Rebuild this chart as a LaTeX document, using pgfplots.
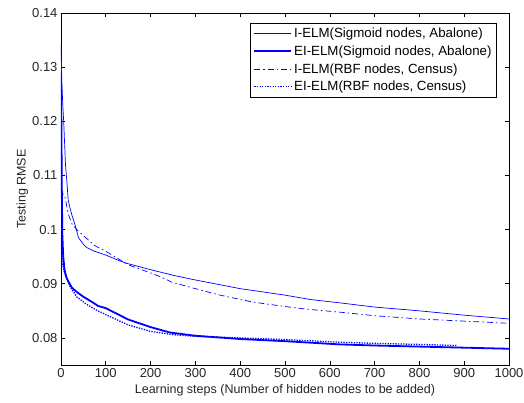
\documentclass[border=0pt]{standalone}
\usepackage{pgfplots}
\pgfplotsset{compat=1.18}
\usepackage{fontspec}
\setmainfont{Liberation Sans}
\begin{document}
\begin{tikzpicture}
\begin{axis}[
  scale only axis,
  width=448pt, height=352pt,
  xmin=0, xmax=1000, ymin=0.075, ymax=0.14,
  xtick={0,100,...,1000},
  ytick={0.08,0.09,0.1,0.11,0.12,0.13,0.14},
  scaled y ticks=false, scaled x ticks=false,
  /pgf/number format/assume math mode=true,
  /pgf/number format/set thousands separator={},
  yticklabel style={/pgf/number format/fixed, /pgf/number format/precision=2},
  tick align=inside,
  tick pos=both,
  major tick length=4pt,
  tick style={black, line width=0.6pt},
  axis line style={black, line width=0.6pt},
  ticklabel style={font=\fontsize{13}{15}\selectfont, text=black!85},
  label style={font=\fontsize{12.5}{15}\selectfont, text=black!85},
  xlabel={Learning steps (Number of hidden nodes to be added)},
  ylabel={Testing RMSE},
  xlabel style={yshift=0pt},
  ylabel style={yshift=-3pt},
  legend style={at={(rel axis cs:0.973,0.972)}, anchor=north east,
    font=\fontsize{13.3}{15}\selectfont, draw=black, line width=0.6pt,
    row sep=2.5pt, inner xsep=3pt, inner ysep=3pt},
  legend cell align=left,
  legend image code/.code={\draw[#1] (0cm,0cm) -- (1.3cm,0cm);},
]
\addplot[blue, line width=0.7pt] coordinates {
(0,0.134) (2,0.127) (4,0.123) (6,0.120) (8,0.116) (10,0.112) (13,0.109) (16,0.1055) (20,0.1040) (25,0.1025) (31,0.1010) (39,0.0985) (50,0.0973) (57,0.0967) (75,0.0960) (100,0.0953) (135,0.0941) (150,0.0937) (200,0.0926) (254,0.0915) (300,0.0907) (350,0.0899) (400,0.0891) (450,0.0885) (500,0.0879) (556,0.0871) (630,0.0864) (700,0.0857) (800,0.0850) (900,0.0842) (1000,0.0835)
};
\addlegendentry{I-ELM(Sigmoid nodes, Abalone)}
\addplot[blue, line width=1.8pt] coordinates {
(0,0.129) (1,0.118) (2,0.106) (3,0.099) (5,0.095) (8,0.0925) (12,0.0912) (18,0.0902) (24,0.0893) (35,0.0885) (50,0.0876) (70,0.0866) (83,0.0859) (100,0.0855) (150,0.0834) (200,0.0820) (243,0.0810) (300,0.0804) (400,0.0798) (500,0.0794) (623,0.0788) (700,0.0786) (800,0.0784) (900,0.0782) (1000,0.0780)
};
\addlegendentry{EI-ELM(Sigmoid nodes, Abalone)}
\addplot[blue, line width=0.7pt, dash pattern=on 6pt off 3pt on 1.5pt off 3pt] coordinates {
(0,0.1075) (3,0.1068) (9,0.1060) (16,0.1029) (25,0.1010) (35,0.1000) (50,0.0989) (76,0.0970) (100,0.0960) (150,0.0935) (200,0.0920) (225,0.0912) (247,0.0903) (300,0.0891) (350,0.0880) (400,0.0871) (430,0.0866) (500,0.0858) (550,0.0853) (630,0.0847) (700,0.0841) (800,0.0835) (900,0.0831) (1000,0.0827)
};
\addlegendentry{I-ELM(RBF nodes, Census)}
\addplot[blue, line width=1.3pt, dash pattern=on 1.3pt off 1.3pt] coordinates {
(0,0.0995) (1,0.0970) (3,0.0940) (6,0.0925) (12,0.0912) (20,0.0895) (35,0.0876) (57,0.0862) (80,0.0851) (100,0.0843) (150,0.0824) (200,0.0812) (250,0.0806) (300,0.0803) (400,0.0800) (500,0.0797) (623,0.0792) (700,0.0790) (800,0.0788) (883,0.0786)
};
\addlegendentry{EI-ELM(RBF nodes, Census)}
\end{axis}
\pgfresetboundingbox
\path[use as bounding box] ([xshift=-61pt,yshift=-37pt]current axis.south west) rectangle ([xshift=15pt,yshift=13pt]current axis.north east);
\end{tikzpicture}
\end{document}
